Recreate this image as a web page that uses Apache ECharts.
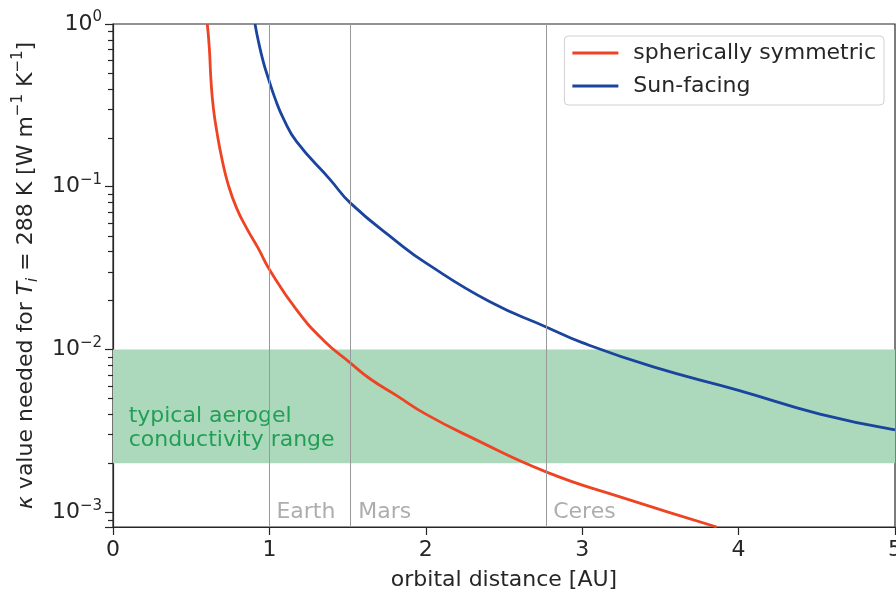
<!DOCTYPE html>
<html>
<head>
<meta charset="utf-8">
<script src="https://cdn.jsdelivr.net/npm/echarts@6/dist/echarts.min.js"></script>
<style>
  html, body { margin: 0; padding: 0; background: #fff; }
  #chart { width: 896px; height: 593px; }
</style>
</head>
<body>
<div id="chart"></div>
<script>
// values
const symX = [0.603, 0.616, 0.627, 0.642, 0.664, 0.696, 0.738, 0.791, 0.855, 0.929, 1.0, 1.174, 1.345, 1.515, 1.643, 1.814, 2.0, 2.283, 2.773, 3.242, 3.86]
const symK = [1.0, 0.709, 0.442, 0.303, 0.218, 0.149, 0.102, 0.0736, 0.0555, 0.0418, 0.031, 0.0175, 0.0114, 0.0083, 0.0066, 0.0052, 0.0040, 0.0029, 0.00176, 0.00124, 0.00081]
const sunX = [0.908, 0.93, 0.961, 0.993, 1.036, 1.089, 1.174, 1.387, 1.52, 1.814, 2.0, 2.41, 2.773, 3.0, 3.455, 4.0, 4.52, 5.0]
const sunK = [1.0, 0.78, 0.586, 0.464, 0.349, 0.263, 0.189, 0.111, 0.079, 0.046, 0.034, 0.0196, 0.0137, 0.011, 0.0078, 0.0056, 0.0040, 0.0032]

const planetNames = ['Earth', 'Mars', 'Ceres']
const planetDist = [1.0, 1.524, 2.77]

const aerogelRange = [0.002, 0.01]
const yMinorSteps = [2, 3, 4, 5, 6, 7, 8, 9]
const xTicks = [0, 1, 2, 3, 4, 5]

const Y_MIN = 0.00081
const Y_MAX = 1

const minorTicks = []
;[0.0001, 0.001, 0.01, 0.1].forEach((dec) => {
  yMinorSteps.forEach((s) => {
    const v = dec * s
    if (v >= Y_MIN && v <= Y_MAX) minorTicks.push(v)
  })
})

const FONT = 'DejaVu Sans'
const INK = '#262626'
const FS = 22

function supLabel(value) {
  const exp = Math.round(Math.log10(value))
  if (Math.abs(Math.log10(value) - exp) > 1e-6) return ''
  const txt = exp < 0 ? '\u2212' + Math.abs(exp) : String(exp)
  return '10{sup|' + txt + '}'
}

// short outward tick on the left spine, positioned by the axis scale
function renderMinorTick(params, api) {
  const p = api.coord([0, api.value(1)])
  const y = Math.round(p[1]) + 0.5
  return {
    type: 'line',
    silent: true,
    shape: { x1: p[0] - 5, y1: y, x2: p[0], y2: y },
    style: { stroke: INK, lineWidth: 1.2 },
  }
}

const chart = echarts.init(document.getElementById('chart'), null, { renderer: 'canvas' })

chart.setOption({
  animation: false,
  textStyle: { fontFamily: FONT },
  grid: {
    left: 113, right: 1, top: 24, bottom: 66,
    outerBoundsMode: 'none', containLabel: false,
    show: true, borderColor: INK, borderWidth: 1.2, backgroundColor: 'transparent',
  },
  legend: {
    data: ['spherically symmetric', 'Sun-facing'],
    orient: 'vertical',
    right: 12,
    top: 36,
    icon: 'rect',
    itemWidth: 46,
    itemHeight: 3,
    itemGap: 9,
    padding: [5, 8, 7, 8],
    borderColor: '#d0d0d0',
    borderWidth: 1,
    borderRadius: 4,
    backgroundColor: '#fff',
    textStyle: { fontFamily: FONT, fontSize: FS, color: INK, lineHeight: 24, padding: [0, 0, 0, 10] },
  },
  xAxis: {
    type: 'value',
    min: 0,
    max: 5,
    interval: 1,
    axisLine: { show: true, onZero: false, lineStyle: { color: INK, width: 1.2 } },
    axisTick: { show: true, length: 8, lineStyle: { color: INK, width: 1.2 } },
    axisLabel: { fontSize: FS, color: INK, margin: 12, formatter: (v) => xTicks.includes(v) ? String(v) : '' },
    splitLine: { show: false },
    name: 'orbital distance [AU]',
    nameLocation: 'middle',
    nameGap: 42,
    nameTextStyle: { fontSize: FS, color: INK, fontFamily: FONT },
  },
  yAxis: {
    type: 'log',
    logBase: 10,
    min: Y_MIN,
    max: Y_MAX,
    axisLine: { show: true, onZero: false, lineStyle: { color: INK, width: 1.2 } },
    axisTick: { show: true, length: 8, lineStyle: { color: INK, width: 1.2 } },
    axisLabel: {
      fontSize: FS,
      color: INK,
      margin: 11,
      lineHeight: 28,
      formatter: supLabel,
      rich: {
        sup: { fontSize: 15, color: INK, verticalAlign: 'top', lineHeight: 28, fontFamily: FONT },
      },
    },
    splitLine: { show: false },
    name: '{it|\u03ba} value needed for {it|T}{sub|i} = 288 K [W m{sup|\u22121} K{sup|\u22121}]',
    nameLocation: 'middle',
    nameRotate: 90,
    nameGap: 68,
    nameTextStyle: {
      fontSize: FS,
      color: INK,
      fontFamily: FONT,
      lineHeight: 30,
      rich: {
        it: { fontSize: FS, fontStyle: 'italic', color: INK, fontFamily: FONT, lineHeight: 30 },
        sub: { fontSize: 15, fontStyle: 'italic', color: INK, fontFamily: FONT, verticalAlign: 'bottom', lineHeight: 30 },
        sup: { fontSize: 15, color: INK, fontFamily: FONT, verticalAlign: 'top', lineHeight: 30 },
      },
    },
  },
  series: [
    {
      name: 'aerogel band',
      type: 'line',
      data: [],
      silent: true,
      z: 1,
      markArea: {
        silent: true,
        itemStyle: { color: '#acd9bc', opacity: 1 },
        data: [[{ yAxis: aerogelRange[0] }, { yAxis: aerogelRange[1] }]],
      },
    },
    {
      name: 'minor ticks',
      type: 'custom',
      silent: true,
      clip: false,
      z: 5,
      data: minorTicks.map((v) => [0, v]),
      renderItem: renderMinorTick,
    },
    {
      name: 'planets',
      type: 'scatter',
      symbolSize: 0,
      silent: true,
      z: 3,
      data: planetNames.map((n, i) => [planetDist[i], 0.001, n]),
      label: {
        show: true,
        position: 'right',
        distance: 7,
        fontSize: FS,
        fontFamily: FONT,
        color: '#999999',
        formatter: (p) => p.data[2],
      },
      markLine: {
        silent: true,
        symbol: 'none',
        label: { show: false },
        lineStyle: { color: '#999999', width: 1, type: 'solid' },
        data: planetDist.map((d) => ({ xAxis: d })),
      },
    },
    {
      name: 'spherically symmetric',
      type: 'line',
      data: symX.map((x, i) => [x, symK[i]]),
      showSymbol: false,
      symbol: 'none',
      smooth: 0.5,
      z: 4,
      lineStyle: { color: '#ee4423', width: 2.8 },
      itemStyle: { color: '#ee4423' },
    },
    {
      name: 'Sun-facing',
      type: 'line',
      data: sunX.map((x, i) => [x, sunK[i]]),
      showSymbol: false,
      symbol: 'none',
      smooth: 0.5,
      z: 4,
      lineStyle: { color: '#1a449e', width: 2.8 },
      itemStyle: { color: '#1a449e' },
    },
    {
      name: 'aerogel text',
      type: 'scatter',
      symbolSize: 0,
      silent: true,
      z: 3,
      data: [[0.1, 0.00329, 'typical aerogel\nconductivity range']],
      label: {
        show: true,
        position: 'right',
        distance: 0,
        fontSize: FS,
        lineHeight: 24,
        fontFamily: FONT,
        color: '#00903c',
        align: 'left',
        formatter: (p) => p.data[2],
      },
    },
  ],
})
</script>
</body>
</html>
